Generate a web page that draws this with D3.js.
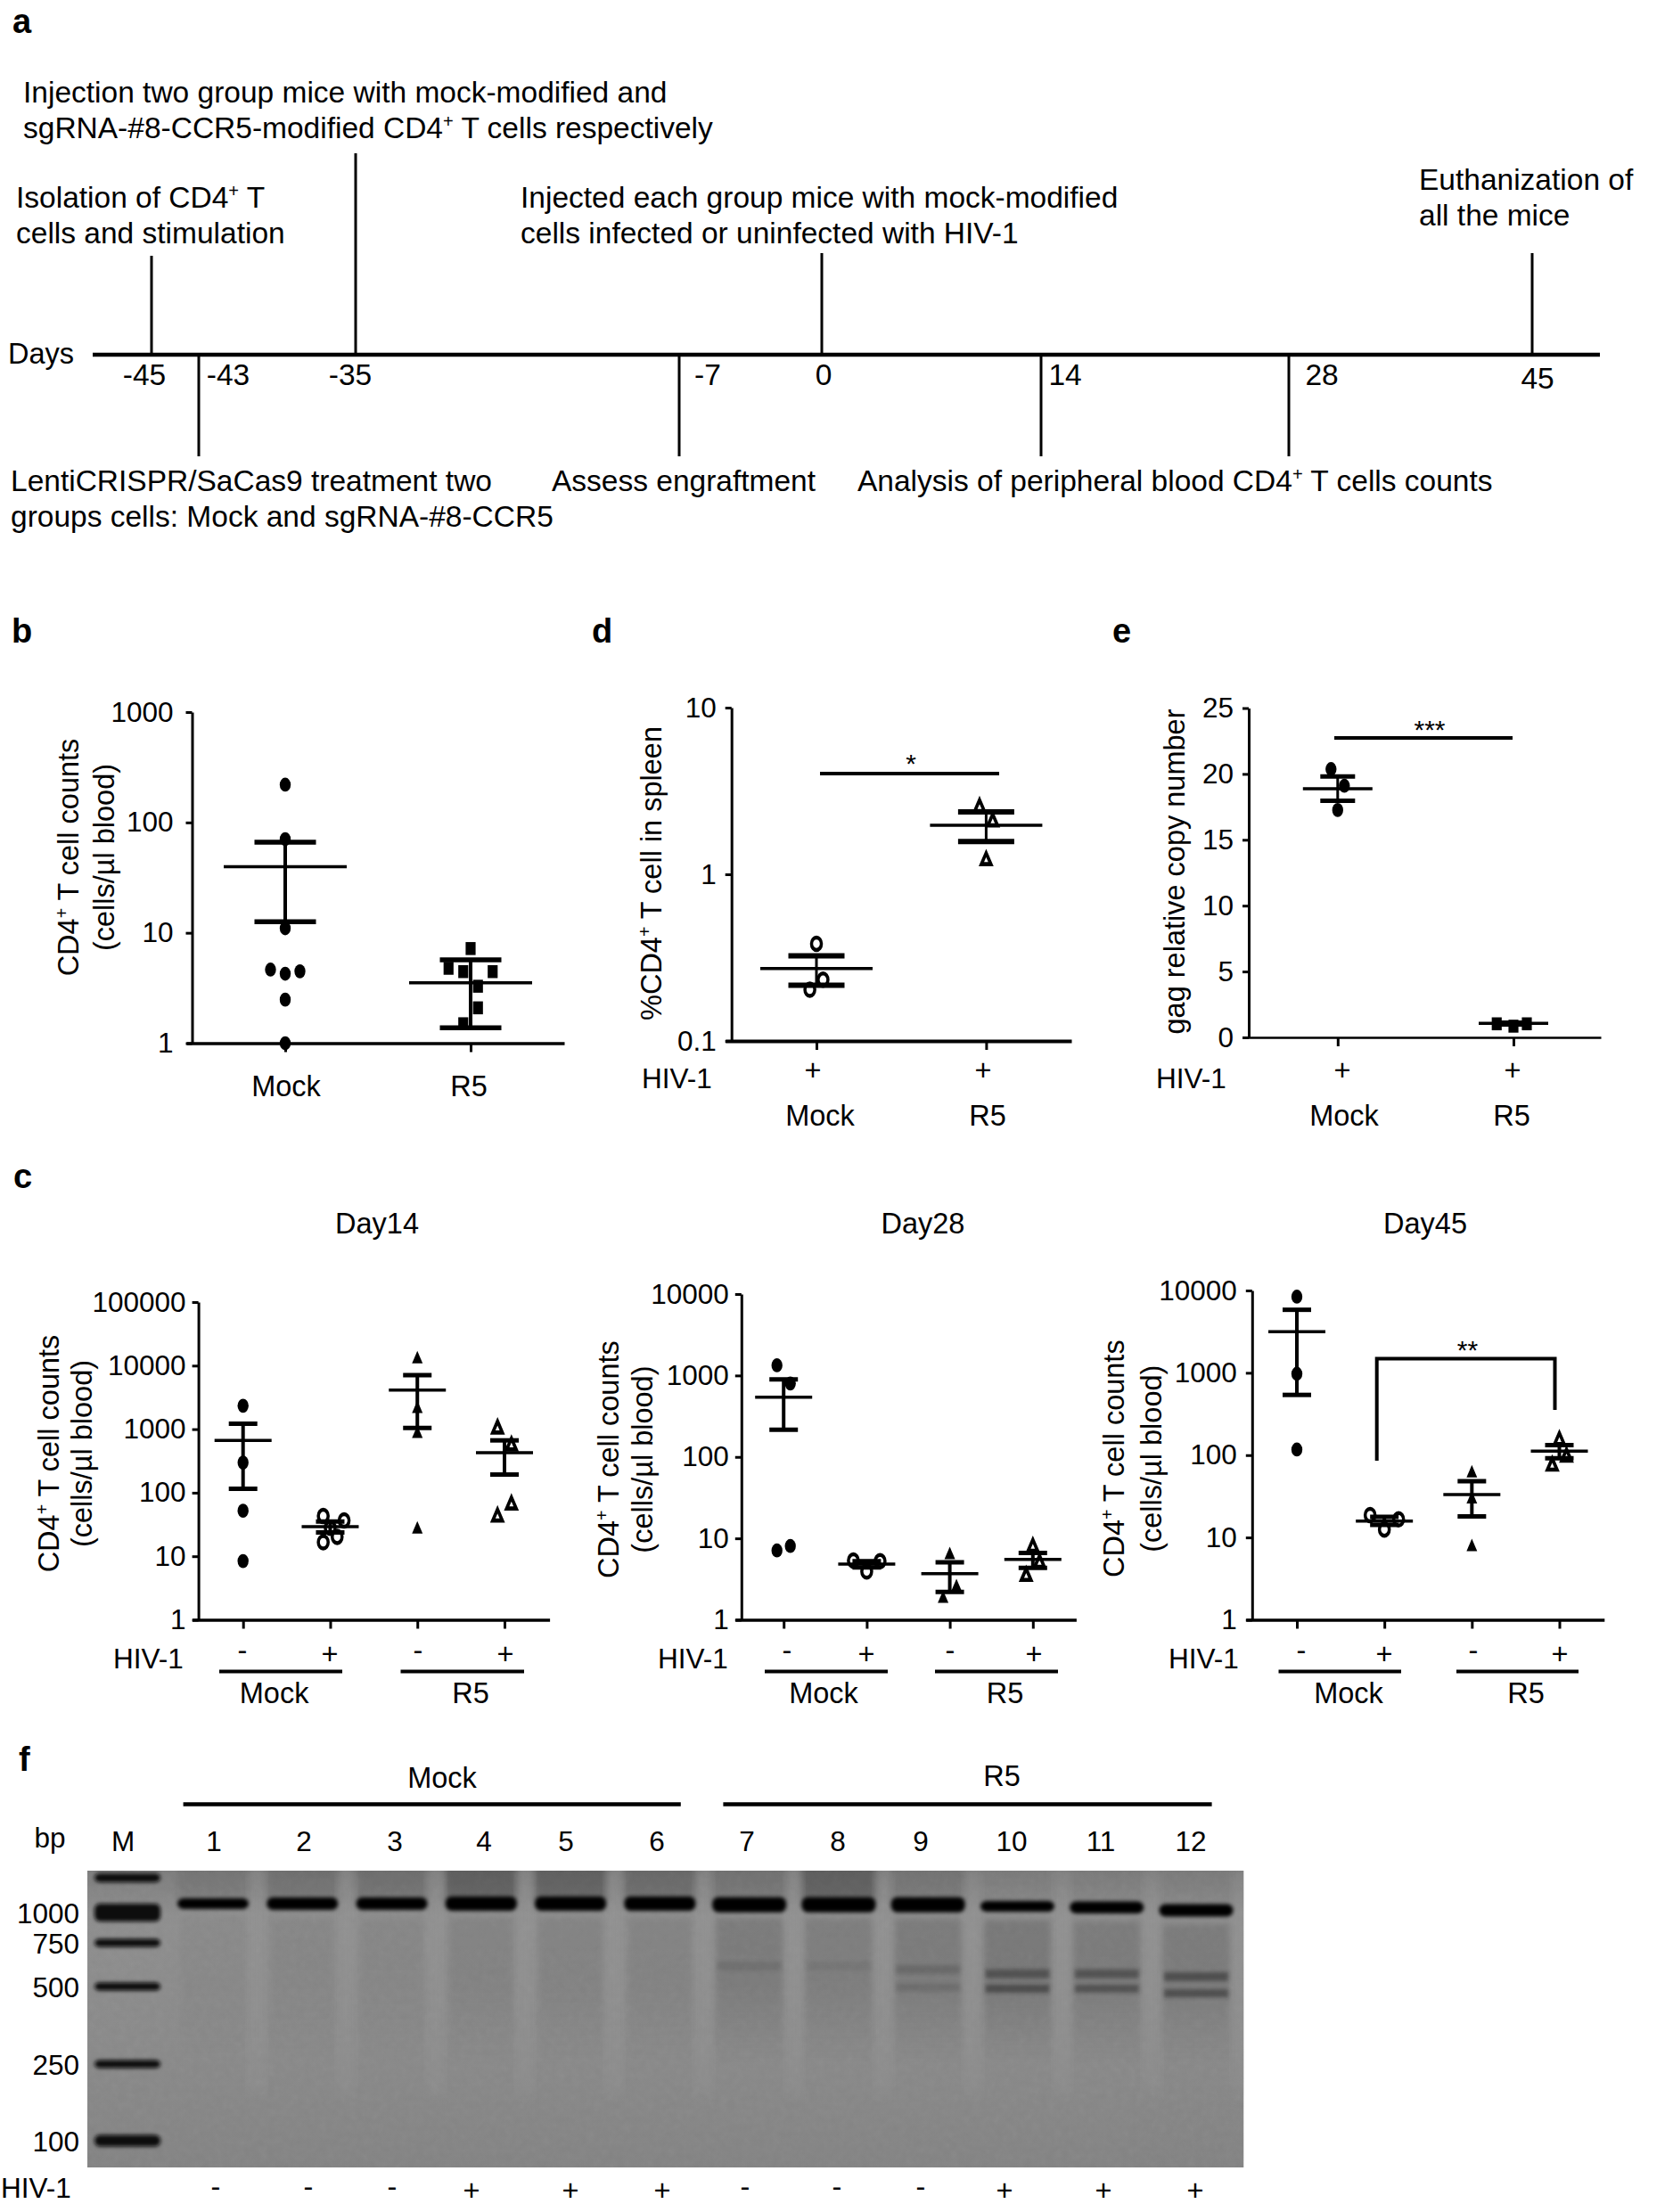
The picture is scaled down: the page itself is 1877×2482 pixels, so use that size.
<!DOCTYPE html>
<html>
<head>
<meta charset="utf-8">
<script src="https://d3js.org/d3.v7.min.js"></script>
<style>
body { margin: 0; background: #fff; }
text { font-family: "Liberation Sans", Arial, sans-serif; fill: #000; }
</style>
</head>
<body>
<div id="fig"></div>
<script>
// panel a - timeline
var days = [-45, -43, -35, -7, 0, 14, 28, 45];

// panel b
var bMock = [220, 70.6, 11, 4.64, 4.26, 4.48, 2.48, 1];
var bMockCols = [0, 0, 0, -1, 0, 1, 0, 0];
var bMockStats = [39.7, 66.2, 12.6];
var bR5 = [7.2, 4.77, 4.45, 4.45, 3.28, 2.09, 1.5];
var bR5Cols = [0, -1.5, -0.5, 1.5, 0.5, 0.5, -0.5];
var bR5Stats = [3.52, 5.7, 1.38];

// panel c - Day14
var d14MockNeg = [2333, 298, 52, 8.4];
var d14MockNegStats = [666, 1222, 115];
var d14MockPos = [42.9, 36.6, 28, 20.2, 16.6];
var d14MockPosCols = [-1, 2, 0, 1, -1];
var d14MockPosStats = [29.3, 35.2, 23.7];
var d14R5Neg = [12600, 2090, 845, 26.4];
var d14R5NegStats = [4110, 7060, 1043];
var d14R5Pos = [1016, 547, 64.6, 41.8];
var d14R5PosCols = [-1, 1, 1, -1];
var d14R5PosStats = [426, 666, 193];

// panel c - Day28
var d28MockNeg = [1334, 798, 7.1, 8.06];
var d28MockNegCols = [-1, 1, -1, 1];
var d28MockNegStats = [540, 893, 216];
var d28MockPos = [5.34, 5.24, 3.92];
var d28MockPosCols = [-2, 2, 0];
var d28MockPosStats = [4.82, 5.24, 4.4];
var d28R5Neg = [6.23, 2.52, 1.82];
var d28R5NegCols = [0, 1, -1];
var d28R5NegStats = [3.69, 5.07, 2.2];
var d28R5Pos = [7.8, 4.97, 3.43];
var d28R5PosCols = [0, 1, -1];
var d28R5PosStats = [5.5, 6.6, 4.35];

// panel c - Day45
var d45MockNeg = [8410, 973, 117];
var d45MockNegStats = [3165, 5830, 539];
var d45MockPos = [18.7, 16.6, 12.5];
var d45MockPosCols = [-2, 2, 0];
var d45MockPosStats = [15.8, 17.8, 14.2];
var d45R5Neg = [60.4, 29, 7.66];
var d45R5NegStats = [33.2, 48.3, 18];
var d45R5Pos = [151, 95.5, 74];
var d45R5PosCols = [0, 1, -1];
var d45R5PosStats = [112, 132, 91.6];

// panel d
var dMock = [0.383, 0.233, 0.203];
var dMockCols = [0, 1, -1];
var dMockStats = [0.272, 0.324, 0.216];
var dR5 = [2.52, 2.07, 1.21];
var dR5Cols = [-1, 1, 0];
var dR5Stats = [1.97, 2.37, 1.57];

// panel e
var eMock = [20.37, 19.1, 17.26];
var eMockCols = [-1, 1, 0];
var eMockStats = [18.87, 19.8, 17.96];
var eR5 = [1.03, 0.85, 1.03];
var eR5Cols = [-2.5, 0, 2];
var eR5Stats = [1.06, 1.12, 0.98];

// panel f - gel
var lanes = [1, 2, 3, 4, 5, 6, 7, 8, 9, 10, 11, 12];
var laneHiv = ["-", "-", "-", "+", "+", "+", "-", "-", "-", "+", "+", "+"];
var ladderBp = [1200, 1000, 750, 500, 250, 100];
var ladderAmount = [10, 20, 9, 9, 9, 13];
var ladderLabels = [1000, 750, 500, 250, 100];
var mainBandBp = [1051, 1051, 1051, 1051, 1051, 1051, 1045, 1045, 1045, 1036, 1029, 1013];
var mainBandAmount = [12, 14, 14, 16, 16, 16, 17, 17, 17, 12, 13.5, 14];
var wellDark = [0.12, 0.2, 0.22, 0.45, 0.42, 0.3, 0.18, 0.45, 0.15, 0.03, 0.03, 0.03];
var smearDark = [0.03, 0.05, 0.05, 0.08, 0.08, 0.08, 0.14, 0.12, 0.14, 0.16, 0.14, 0.14];
var upperBandBp = [0, 0, 0, 0, 0, 0, 617, 617, 598, 573, 573, 557];
var upperBandDark = [0, 0, 0, 0, 0, 0, 0.12, 0.08, 0.2, 0.45, 0.45, 0.5];
var lowerBandBp = [0, 0, 0, 0, 0, 0, 0, 0, 497, 493, 493, 478];
var lowerBandDark = [0, 0, 0, 0, 0, 0, 0, 0, 0.16, 0.5, 0.45, 0.5];

var groupNames = ["Mock-", "Mock+", "R5-", "R5+"];
var fs = 32.5, tickFs = 31.5, tlFs = 33.5;

var svg = d3.select("#fig").append("svg")
  .attr("width", 1877)
  .attr("height", 2482)
  .style("display", "block")
  .style("background", "#fff");

// text helper, "^+" becomes a superscript plus
function txt(x, y, s, o) {
  o = o || {};
  var size = o.size || fs;
  var t = svg.append("text")
    .attr("font-size", size)
    .attr("font-weight", o.weight || "normal")
    .attr("text-anchor", o.anchor || "start")
    .attr("transform", "translate(" + x + "," + y + ")" + (o.rot ? " rotate(-90)" : ""));
  var parts = s.split("^+");
  parts.forEach(function(p, i) {
    var sp = t.append("tspan").text(p);
    if (i > 0) sp.attr("dy", size * 0.36);
    if (i < parts.length - 1) {
      t.append("tspan").text("+").attr("font-size", size * 0.6).attr("dy", -size * 0.36);
    }
  });
  return t;
}

function rule(x1, y1, x2, y2, w) {
  svg.append("line").attr("x1", x1).attr("y1", y1).attr("x2", x2).attr("y2", y2)
    .attr("stroke", "#000").attr("stroke-width", w);
}

// panel letters
txt(14, 37, "a", {size: 38, weight: "bold"});
txt(13, 721, "b", {size: 38, weight: "bold"});
txt(15, 1333, "c", {size: 38, weight: "bold"});
txt(664, 721, "d", {size: 38, weight: "bold"});
txt(1248, 721, "e", {size: 38, weight: "bold"});
txt(21, 1987, "f", {size: 38, weight: "bold"});

// ---------- a: timeline (days are not to scale in the figure, so piecewise)
var dayX = d3.scaleLinear().domain(days).range([170, 223, 399, 762, 922, 1168, 1446, 1719]);
var stemEnd = [287, 512, 172, 512, 284, 512, 512, 284];
var dayLabelDx = [-8, 33, -6, 32, 2, 27, 37, 6];
var dayLabelY = [432, 432, 432, 432, 432, 432, 432, 436];

days.forEach(function(d, i) {
  rule(dayX(d), 398, dayX(d), stemEnd[i], 3);
  txt(dayX(d) + dayLabelDx[i], dayLabelY[i], String(d), {anchor: "middle", size: tlFs});
});
rule(104, 398, 1795, 398, 4.5);
txt(9, 408, "Days");

var tl = {size: tlFs};
txt(26, 115, "Injection two group mice with mock-modified and", tl);
txt(26, 155, "sgRNA-#8-CCR5-modified CD4^+ T cells respectively", tl);
txt(18, 233, "Isolation of CD4^+ T", tl);
txt(18, 273, "cells and stimulation", tl);
txt(584, 233, "Injected each group mice with mock-modified", tl);
txt(584, 273, "cells infected or uninfected with HIV-1", tl);
txt(1592, 213, "Euthanization of", tl);
txt(1592, 253, "all the mice", tl);
txt(12, 551, "LentiCRISPR/SaCas9 treatment two", tl);
txt(12, 591, "groups cells: Mock and sgRNA-#8-CCR5", tl);
txt(619, 551, "Assess engraftment", tl);
txt(962, 551, "Analysis of peripheral blood CD4^+ T cells counts", tl);

// ---------- scatter panels
var symbols = {circle: d3.symbolCircle, square: d3.symbolSquare, triangle: d3.symbolTriangle};
var symbolSize = {circle: 120, square: 125, triangle: 62};
var symbolStretch = {circle: 1.27, square: 1.3, triangle: 1.35};

function plot(p) {
  var y = p.scale.domain(p.domain).range([p.bottom, p.top]);
  var names = p.groups.map(function(g) { return g.name; });
  var left = p.firstTick - p.xStart, right = p.xEnd - p.lastTick;
  var x = d3.scalePoint().domain(names)
    .range([p.xStart, p.xEnd])
    .padding((left + right) / 2 / ((p.lastTick - p.firstTick) / (names.length - 1)))
    .align(left / (left + right));

  var yAxis = d3.axisLeft(y)
    .tickValues(p.ticks)
    .tickFormat(function(d) { return String(d); })
    .tickSizeInner(7)
    .tickSizeOuter(0)
    .tickPadding(p.tickPad);
  var ya = svg.append("g").attr("transform", "translate(" + p.axisX + ",0)").call(yAxis);
  ya.selectAll("line,path").attr("stroke", "#000").attr("stroke-width", 3);
  ya.selectAll("text").attr("font-size", tickFs).attr("font-family", "Liberation Sans").attr("fill", "#000");

  var xa = svg.append("g").attr("transform", "translate(0," + p.bottom + ")")
    .call(d3.axisBottom(x).tickSizeInner(10).tickSizeOuter(0).tickFormat(""));
  xa.selectAll("line").attr("stroke", "#000").attr("stroke-width", 3);
  xa.selectAll("path").attr("stroke", "#000").attr("stroke-width", p.xAxisW || 3.5);

  p.groups.forEach(function(g) {
    var cx = x(g.name);
    var cols = g.cols || g.vals.map(function() { return 0; });
    var pts = g.vals.map(function(v, i) { return {v: v, c: cols[i]}; });
    svg.append("g").selectAll("path").data(pts).enter().append("path")
      .attr("d", d3.symbol().type(symbols[g.sym]).size(g.open ? symbolSize[g.sym] * 0.8 : symbolSize[g.sym]))
      .attr("transform", function(d) {
        return "translate(" + (cx + d.c * p.colStep) + "," + y(d.v) + ") scale(1," + symbolStretch[g.sym] + ")";
      })
      .attr("fill", g.open ? "#fff" : "#000")
      .attr("stroke", g.open ? "#000" : "none")
      .attr("stroke-width", 3.5);

    var mean = g.stats[0], up = g.stats[1], lo = g.stats[2];
    rule(cx, y(up), cx, y(lo), p.stemW || 4);
    rule(cx - p.capHalf, y(up), cx + p.capHalf, y(up), p.capW || 5.5);
    rule(cx - p.capHalf, y(lo), cx + p.capHalf, y(lo), p.capW || 5.5);
    rule(cx - p.meanHalf, y(mean), cx + p.meanHalf, y(mean), 3.5);
  });
}

function group(name, vals, cols, stats, sym, open) {
  return {name: name, vals: vals, cols: cols, stats: stats, sym: sym, open: open};
}

// b
plot({
  scale: d3.scaleLog(), domain: [1, 1000], top: 799, bottom: 1170.5,
  axisX: 215.5, tickPad: 14, ticks: [1, 10, 100, 1000],
  xStart: 209, xEnd: 633, firstTick: 320, lastTick: 528,
  colStep: 16.5, capHalf: 34.5, meanHalf: 69, stemW: 4,
  groups: [
    group("Mock", bMock, bMockCols, bMockStats, "circle", false),
    group("R5", bR5, bR5Cols, bR5Stats, "square", false)
  ]
});
txt(88, 962, "CD4^+ T cell counts", {anchor: "middle", rot: true});
txt(128, 962, "(cells/µl blood)", {anchor: "middle", rot: true});
txt(321, 1230, "Mock", {anchor: "middle"});
txt(526, 1230, "R5", {anchor: "middle"});

// c: the three day plots
function dayPlot(o) {
  plot({
    scale: d3.scaleLog(), domain: o.domain, top: o.top, bottom: 1817.5,
    axisX: o.axisX, tickPad: o.tickPad, ticks: o.ticks,
    xStart: o.axisX - 7, xEnd: o.xEnd, firstTick: o.firstTick, lastTick: o.lastTick,
    colStep: o.colStep, capHalf: 16, meanHalf: 32, stemW: 4, capW: 5,
    groups: o.groups
  });
  txt(o.titleX, 1384, o.title, {anchor: "middle"});
  txt(o.ylab1, o.ylabY, "CD4^+ T cell counts", {anchor: "middle", rot: true});
  txt(o.ylab2, o.ylabY, "(cells/µl blood)", {anchor: "middle", rot: true});
  txt(o.hivX, o.hivY, "HIV-1", {size: tickFs});
  ["-", "+", "-", "+"].forEach(function(s, i) {
    txt(o.signX[i], s === "-" ? o.hivY - 9 : o.hivY - 5, s, {anchor: "middle"});
  });
  rule(o.bar1[0], 1875.5, o.bar1[1], 1875.5, 4);
  rule(o.bar2[0], 1875.5, o.bar2[1], 1875.5, 4);
  txt(o.mockX, 1911, "Mock", {anchor: "middle"});
  txt(o.r5X, 1911, "R5", {anchor: "middle"});
}

dayPlot({
  title: "Day14", titleX: 423, domain: [1, 100000], top: 1461, axisX: 222.6, tickPad: 7,
  ticks: [1, 10, 100, 1000, 10000, 100000], xEnd: 616.6, firstTick: 272.7, lastTick: 566,
  colStep: 7.8, ylab1: 66, ylab2: 103, ylabY: 1631, hivX: 127, hivY: 1872,
  signX: [272, 370, 469, 567], bar1: [246, 384], bar2: [449.5, 588], mockX: 307.6, r5X: 528,
  groups: [
    group(groupNames[0], d14MockNeg, null, d14MockNegStats, "circle", false),
    group(groupNames[1], d14MockPos, d14MockPosCols, d14MockPosStats, "circle", true),
    group(groupNames[2], d14R5Neg, null, d14R5NegStats, "triangle", false),
    group(groupNames[3], d14R5Pos, d14R5PosCols, d14R5PosStats, "triangle", true)
  ]
});

dayPlot({
  title: "Day28", titleX: 1035.4, domain: [1, 10000], top: 1452, axisX: 831.8, tickPad: 7,
  ticks: [1, 10, 100, 1000, 10000], xEnd: 1207.4, firstTick: 879.2, lastTick: 1158.8,
  colStep: 7.5, ylab1: 694, ylab2: 732, ylabY: 1637.6, hivX: 738, hivY: 1872,
  signX: [883, 972, 1066, 1160], bar1: [858, 996], bar2: [1049, 1187], mockX: 924, r5X: 1127.5,
  groups: [
    group(groupNames[0], d28MockNeg, d28MockNegCols, d28MockNegStats, "circle", false),
    group(groupNames[1], d28MockPos, d28MockPosCols, d28MockPosStats, "circle", true),
    group(groupNames[2], d28R5Neg, d28R5NegCols, d28R5NegStats, "triangle", false),
    group(groupNames[3], d28R5Pos, d28R5PosCols, d28R5PosStats, "triangle", true)
  ]
});

dayPlot({
  title: "Day45", titleX: 1599, domain: [1, 10000], top: 1448, axisX: 1404.8, tickPad: 10,
  ticks: [1, 10, 100, 1000, 10000], xEnd: 1799.8, firstTick: 1455, lastTick: 1749.5,
  colStep: 8, ylab1: 1261, ylab2: 1303, ylabY: 1636.7, hivX: 1311, hivY: 1872,
  signX: [1460, 1553, 1653, 1750], bar1: [1434.5, 1572], bar2: [1634, 1771], mockX: 1513, r5X: 1712,
  groups: [
    group(groupNames[0], d45MockNeg, null, d45MockNegStats, "circle", false),
    group(groupNames[1], d45MockPos, d45MockPosCols, d45MockPosStats, "circle", true),
    group(groupNames[2], d45R5Neg, null, d45R5NegStats, "triangle", false),
    group(groupNames[3], d45R5Pos, d45R5PosCols, d45R5PosStats, "triangle", true)
  ]
});
// Day45 bracket
svg.append("path")
  .attr("d", d3.line()([[1544.7, 1639], [1544.7, 1524.5], [1744.5, 1524.5], [1744.5, 1582]]))
  .attr("fill", "none").attr("stroke", "#000").attr("stroke-width", 4);
txt(1646.5, 1525, "**", {anchor: "middle", size: 30});

// d
plot({
  scale: d3.scaleLog(), domain: [0.1, 10], top: 794, bottom: 1168,
  axisX: 820.7, tickPad: 10, ticks: [0.1, 1, 10],
  xStart: 813.7, xEnd: 1202, firstTick: 916, lastTick: 1106.4,
  colStep: 7.4, capHalf: 31.5, meanHalf: 63, stemW: 3, capW: 6, xAxisW: 4,
  groups: [
    group("Mock", dMock, dMockCols, dMockStats, "circle", true),
    group("R5", dR5, dR5Cols, dR5Stats, "triangle", true)
  ]
});
rule(920, 868, 1121, 868, 4);
txt(1022, 867, "*", {anchor: "middle", size: 30});
txt(742, 980, "%CD4^+ T cell in spleen", {anchor: "middle", rot: true});
txt(720, 1221, "HIV-1", {size: tickFs});
txt(912, 1212, "+", {anchor: "middle"});
txt(1103, 1212, "+", {anchor: "middle"});
txt(920, 1263, "Mock", {anchor: "middle"});
txt(1108, 1263, "R5", {anchor: "middle"});

// e
plot({
  scale: d3.scaleLinear(), domain: [0, 25], top: 794.5, bottom: 1164,
  axisX: 1401, tickPad: 10, ticks: [0, 5, 10, 15, 20, 25],
  xStart: 1394, xEnd: 1796, firstTick: 1500.8, lastTick: 1698,
  colStep: 7.5, capHalf: 19.5, meanHalf: 39, stemW: 3, capW: 5, xAxisW: 2.5,
  groups: [
    group("Mock", eMock, eMockCols, eMockStats, "circle", false),
    group("R5", eR5, eR5Cols, eR5Stats, "square", false)
  ]
});
rule(1497, 828, 1697, 828, 4);
txt(1604, 829, "***", {anchor: "middle", size: 30});
txt(1329, 978, "gag relative copy number", {anchor: "middle", rot: true});
txt(1297, 1221, "HIV-1", {size: tickFs});
txt(1506, 1212, "+", {anchor: "middle"});
txt(1697, 1212, "+", {anchor: "middle"});
txt(1508, 1263, "Mock", {anchor: "middle"});
txt(1696, 1263, "R5", {anchor: "middle"});

// ---------- f: gel
var gelLeft = 98, gelRight = 1395.5, gelTop = 2099, gelBottom = 2432;
var bpY = d3.scaleLinear().domain(ladderBp).range([2107, 2146, 2180, 2229, 2316, 2402]);
var laneX = d3.scalePoint().domain(lanes).range([239, 1342]);

var defs = svg.append("defs");
defs.append("clipPath").attr("id", "gelClip").append("rect")
  .attr("x", gelLeft).attr("y", gelTop).attr("width", gelRight - gelLeft).attr("height", gelBottom - gelTop);
[["blur1", 2], ["blur2", 3.5], ["blur6", 9]].forEach(function(b) {
  defs.append("filter").attr("id", b[0])
    .attr("x", "-30%").attr("y", "-150%").attr("width", "160%").attr("height", "400%")
    .append("feGaussianBlur").attr("stdDeviation", b[1]);
});
var grad = defs.append("linearGradient").attr("id", "gelBg").attr("x1", 0).attr("y1", 0).attr("x2", 0).attr("y2", 1);
[[0, "#7c7c7c"], [0.15, "#8e8e8e"], [0.55, "#8a8a8a"], [1, "#838383"]].forEach(function(s) {
  grad.append("stop").attr("offset", s[0]).attr("stop-color", s[1]);
});
var fade = defs.append("linearGradient").attr("id", "smearFade").attr("x1", 0).attr("y1", 0).attr("x2", 0).attr("y2", 1);
[[0, 1], [0.45, 0.9], [1, 0]].forEach(function(s) {
  fade.append("stop").attr("offset", s[0]).attr("stop-color", "#000").attr("stop-opacity", s[1]);
});
var noise = defs.append("filter").attr("id", "grain");
noise.append("feTurbulence").attr("type", "fractalNoise").attr("baseFrequency", 0.12).attr("numOctaves", 2).attr("seed", 4);
noise.append("feColorMatrix").attr("type", "saturate").attr("values", 0);

var gel = svg.append("g").attr("clip-path", "url(#gelClip)");
gel.append("rect").attr("x", gelLeft).attr("y", gelTop)
  .attr("width", gelRight - gelLeft).attr("height", gelBottom - gelTop).attr("fill", "url(#gelBg)");
gel.append("rect").attr("x", gelLeft).attr("y", gelTop)
  .attr("width", gelRight - gelLeft).attr("height", gelBottom - gelTop)
  .attr("filter", "url(#grain)").attr("opacity", 0.07);

var laneData = lanes.map(function(l, i) {
  return {
    lane: l, hiv: laneHiv[i], mainBp: mainBandBp[i], mainAmt: mainBandAmount[i],
    well: wellDark[i], smear: smearDark[i],
    upBp: upperBandBp[i], upDark: upperBandDark[i], loBp: lowerBandBp[i], loDark: lowerBandDark[i],
    w: i < 6 ? 80 : 83
  };
});

// dark wells above the main band
gel.selectAll("rect.well").data(laneData).enter().append("rect").attr("class", "well")
  .attr("x", function(d) { return laneX(d.lane) - d.w / 2; })
  .attr("width", function(d) { return d.w; })
  .attr("y", gelTop - 20)
  .attr("height", function(d) { return bpY(d.mainBp) - gelTop + 20; })
  .attr("fill", "#000")
  .attr("opacity", function(d) { return d.well * 0.55; })
  .attr("filter", "url(#blur2)");

// pale gaps between the lanes
gel.selectAll("rect.gap").data(laneData).enter().append("rect").attr("class", "gap")
  .attr("x", function(d) { return laneX(d.lane) + d.w / 2 + 1; })
  .attr("width", 16)
  .attr("y", gelTop)
  .attr("height", 250)
  .attr("fill", "#a0a0a0")
  .attr("opacity", 0.3)
  .attr("filter", "url(#blur6)");

// smear under each band
gel.selectAll("rect.smear").data(laneData).enter().append("rect").attr("class", "smear")
  .attr("x", function(d) { return laneX(d.lane) - d.w / 2 + 4; })
  .attr("width", function(d) { return d.w - 8; })
  .attr("y", function(d) { return bpY(d.mainBp) + 15; })
  .attr("height", function(d) { return bpY(250) - bpY(d.mainBp) - 15; })
  .attr("fill", "url(#smearFade)")
  .attr("opacity", function(d) { return d.smear * 0.9; })
  .attr("filter", "url(#blur2)");

// faint cut bands
gel.selectAll("rect.up").data(laneData.filter(function(d) { return d.upDark > 0; })).enter().append("rect")
  .attr("x", function(d) { return laneX(d.lane) - 36; })
  .attr("width", 72)
  .attr("y", function(d) { return bpY(d.upBp) - 5; })
  .attr("height", 10)
  .attr("fill", "#222")
  .attr("opacity", function(d) { return d.upDark; })
  .attr("filter", "url(#blur1)");
gel.selectAll("rect.lo").data(laneData.filter(function(d) { return d.loDark > 0; })).enter().append("rect")
  .attr("x", function(d) { return laneX(d.lane) - 36; })
  .attr("width", 72)
  .attr("y", function(d) { return bpY(d.loBp) - 4.5; })
  .attr("height", 9)
  .attr("fill", "#222")
  .attr("opacity", function(d) { return d.loDark; })
  .attr("filter", "url(#blur1)");

// main bands
gel.selectAll("rect.band").data(laneData).enter().append("rect").attr("class", "band")
  .attr("x", function(d) { return laneX(d.lane) - d.w / 2; })
  .attr("width", function(d) { return d.w; })
  .attr("y", function(d) { return bpY(d.mainBp) - d.mainAmt / 2; })
  .attr("height", function(d) { return d.mainAmt; })
  .attr("rx", 7)
  .attr("fill", "#050505")
  .attr("filter", "url(#blur1)");

// ladder
gel.selectAll("rect.ladder").data(ladderBp).enter().append("rect").attr("class", "ladder")
  .attr("x", 106)
  .attr("width", 74)
  .attr("y", function(d, i) { return bpY(d) - ladderAmount[i] / 2; })
  .attr("height", function(d, i) { return ladderAmount[i]; })
  .attr("rx", 6)
  .attr("fill", "#0c0c0c")
  .attr("filter", "url(#blur1)");

// gel labels
ladderLabels.forEach(function(b) {
  txt(89, bpY(b) + 12, String(b), {anchor: "end", size: tickFs});
});
txt(56, 2073, "bp", {anchor: "middle", size: tickFs});
txt(138, 2077, "M", {anchor: "middle", size: tickFs});
var laneLabelX = [240, 341, 443, 543, 635, 737, 838, 940, 1033, 1135, 1235, 1336];
var laneSignX = [242, 346, 440, 529, 640, 743, 836, 939, 1033, 1127, 1238, 1341];
lanes.forEach(function(l, i) {
  txt(laneLabelX[i], 2077, String(l), {anchor: "middle", size: tickFs});
  txt(laneSignX[i], laneHiv[i] === "-" ? 2465 : 2469, laneHiv[i], {anchor: "middle"});
});
txt(1, 2466, "HIV-1", {size: tickFs});
txt(496, 2006, "Mock", {anchor: "middle"});
txt(1124, 2004, "R5", {anchor: "middle"});
rule(205.6, 2024.5, 763.8, 2024.5, 4.5);
rule(811.4, 2024.5, 1359.6, 2024.5, 4.5);
</script>
</body>
</html>
